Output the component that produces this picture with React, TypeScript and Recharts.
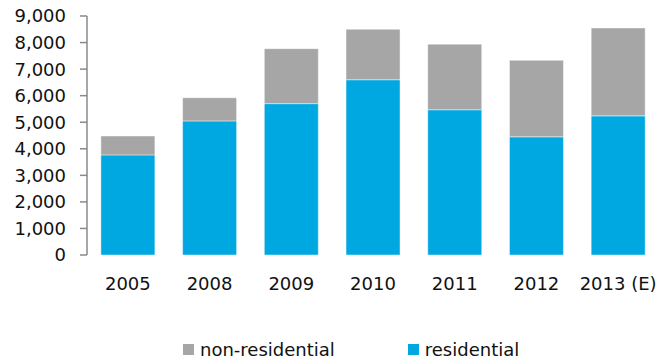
import { BarChart, Bar, XAxis, YAxis, Legend } from "recharts";

const years = ["2005", "2008", "2009", "2010", "2011", "2012", "2013 (E)"];
const residential = [3770, 5050, 5700, 6600, 5470, 4450, 5240];
const nonResidential = [710, 870, 2070, 1900, 2470, 2880, 3310];
const yTicks = [0, 1000, 2000, 3000, 4000, 5000, 6000, 7000, 8000, 9000];
const edgeTicks = [0, 1, 2, 3, 4, 5, 6, 7];

const data = years.map((year, i) => ({
  year,
  residential: residential[i],
  nonResidential: nonResidential[i],
}));

const FONT = "'DejaVu Sans', Verdana, sans-serif";
const AXIS = "#8a8a8a";
const BLUE = "#00a8e2";
const GRAY = "#a6a6a6";

const legendItems = [
  { label: "non-residential", color: GRAY },
  { label: "residential", color: BLUE },
];

const ChartLegend = () => (
  <div style={{ display: "flex", height: 22, alignItems: "center", paddingLeft: 183, fontFamily: FONT, fontSize: 18, color: "#111" }}>
    {legendItems.map((item) => (
      <div key={item.label} style={{ display: "flex", alignItems: "center", marginRight: 73 }}>
        <span style={{ width: 11, height: 11, background: item.color, marginRight: 6, display: "inline-block" }} />
        <span>{item.label}</span>
      </div>
    ))}
  </div>
);

export default function App() {
  return (
    <div style={{ position: "absolute", left: 0, top: 0, width: 664, height: 360, background: "#fff" }}>
      <BarChart
        width={664}
        height={360}
        data={data}
        margin={{ top: 16, right: 5, left: 0, bottom: 0 }}
        barCategoryGap="17%"
      >
        <XAxis
          xAxisId="edge"
          type="number"
          domain={[0, 7]}
          ticks={edgeTicks}
          tick={false}
          height={0}
          tickSize={6}
          stroke={AXIS}
          strokeWidth={1.5}
        />
        <XAxis
          xAxisId="cat"
          dataKey="year"
          axisLine={false}
          tickLine={false}
          tickSize={6}
          tickMargin={16}
          height={83}
          interval={0}
          tick={{ fill: "#111", fontSize: 18, fontFamily: FONT }}
        />
        <YAxis
          domain={[0, 9000]}
          ticks={yTicks}
          width={87}
          tickSize={7}
          tickMargin={14}
          stroke={AXIS}
          strokeWidth={1.5}
          tick={{ fill: "#111", fontSize: 18, fontFamily: FONT }}
          tickFormatter={(v: number) => v.toLocaleString("en-US")}
        />
        <Legend
          verticalAlign="bottom"
          content={<ChartLegend />}
          wrapperStyle={{ left: 0, width: 664, height: 22 }}
        />
        <Bar
          xAxisId="cat"
          dataKey="residential"
          stackId="a"
          fill={BLUE}
          stroke="rgba(255,255,255,0.45)"
          strokeWidth={1}
          isAnimationActive={false}
        />
        <Bar
          xAxisId="cat"
          dataKey="nonResidential"
          stackId="a"
          fill={GRAY}
          stroke="rgba(255,255,255,0.45)"
          strokeWidth={1}
          isAnimationActive={false}
        />
      </BarChart>
    </div>
  );
}
